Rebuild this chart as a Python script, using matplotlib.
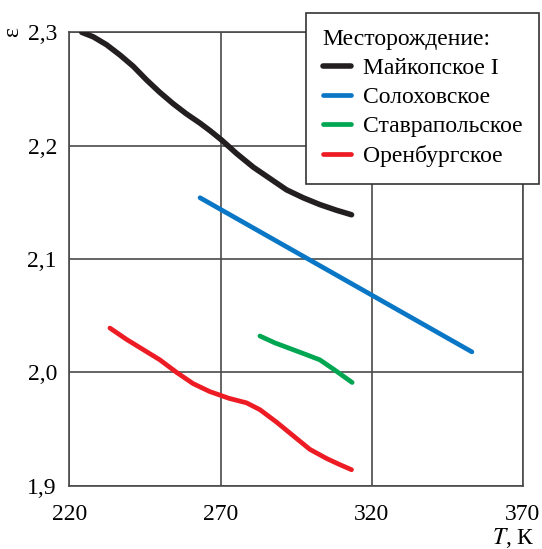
import matplotlib.pyplot as plt
from matplotlib.ticker import FuncFormatter

plt.rcParams['font.family'] = ['Liberation Serif', 'DejaVu Serif']
plt.rcParams['mathtext.fontset'] = 'stix'

# temperature, K / permittivity for each field
maikop_T = [224.1, 227.9, 232.3, 236.7, 241.1, 245.5, 249.9, 254.3, 258.7, 263.1, 266.6,
            270.3, 275.3, 280.8, 286.3, 291.8, 297.3, 302.8, 308.3, 313.3]
maikop_e = [2.300, 2.296, 2.289, 2.280, 2.270, 2.258, 2.247, 2.237, 2.228, 2.220, 2.213,
            2.205, 2.193, 2.181, 2.171, 2.161, 2.154, 2.148, 2.143, 2.139]

solokh_T = [263.2, 353.1]
solokh_e = [2.154, 2.018]

stavr_T = [283.0, 287.9, 292.9, 297.9, 302.8, 307.2, 313.5]
stavr_e = [2.032, 2.026, 2.021, 2.016, 2.011, 2.003, 1.991]

orenb_T = [233.4, 238.9, 244.4, 249.9, 255.4, 260.9, 266.4, 272.8, 278.6, 283.0,
           288.5, 294.0, 299.5, 305.0, 309.0, 313.3]
orenb_e = [2.039, 2.029, 2.020, 2.011, 2.000, 1.990, 1.983, 1.977, 1.973, 1.967,
           1.956, 1.944, 1.932, 1.924, 1.919, 1.914]

names = ['Майкопское I', 'Солоховское', 'Ставрапольское', 'Оренбургское']
colors = ['#231f20', '#0a77c6', '#00a651', '#ed1c24']

W, H = 542, 549
fig = plt.figure(figsize=(W / 100, H / 100), dpi=100)
ax = fig.add_axes([69.4 / W, 1 - 485.6 / H, (523 - 69.4) / W, (485.6 - 32.3) / H])

series = [(maikop_T, maikop_e), (solokh_T, solokh_e), (stavr_T, stavr_e), (orenb_T, orenb_e)]
for (t, e), name, c in zip(series, names, colors):
    lw = 4.0 if c == '#231f20' else 3.4
    ax.plot(t, e, color=c, lw=lw, solid_capstyle='round', solid_joinstyle='round',
            label=name, zorder=3)

ax.set_xlim(220, 370)
ax.set_ylim(1.9, 2.3)
ax.set_xticks([220, 270, 320, 370])
ax.set_yticks([1.9, 2.0, 2.1, 2.2, 2.3])
ax.yaxis.set_major_formatter(FuncFormatter(lambda v, p: f'{v:.1f}'.replace('.', ',')))
ax.grid(True, color='#4a4a4a', lw=1.2)
for s in ax.spines.values():
    s.set_color('#4a4a4a')
    s.set_linewidth(1.2)
ax.tick_params(axis='x', length=0, pad=13, labelsize=17)
ax.tick_params(axis='y', length=0, pad=9, labelsize=17)

fig.text(13 / W, 1 - 32 / H, 'ε', rotation=90, fontsize=17, ha='center', va='center')
fig.text(535 / W, 1 - 538 / H, r'$T$, К', fontsize=17, ha='right', va='center')

leg = ax.legend(loc='upper left', bbox_to_anchor=(306 / W, 1 - 12.7 / H), bbox_transform=fig.transFigure,
                title='Месторождение:', fontsize=17, title_fontsize=17, frameon=True, fancybox=False,
                handlelength=1.2, handletextpad=0.5, borderpad=0.7, labelspacing=0.32, borderaxespad=0)
leg._legend_box.align = 'left'
leg.get_frame().set_edgecolor('#333333')
leg.get_frame().set_linewidth(1.2)
leg.get_frame().set_alpha(1)
leg.set_zorder(5)

fig.savefig('out.png', dpi=100)
